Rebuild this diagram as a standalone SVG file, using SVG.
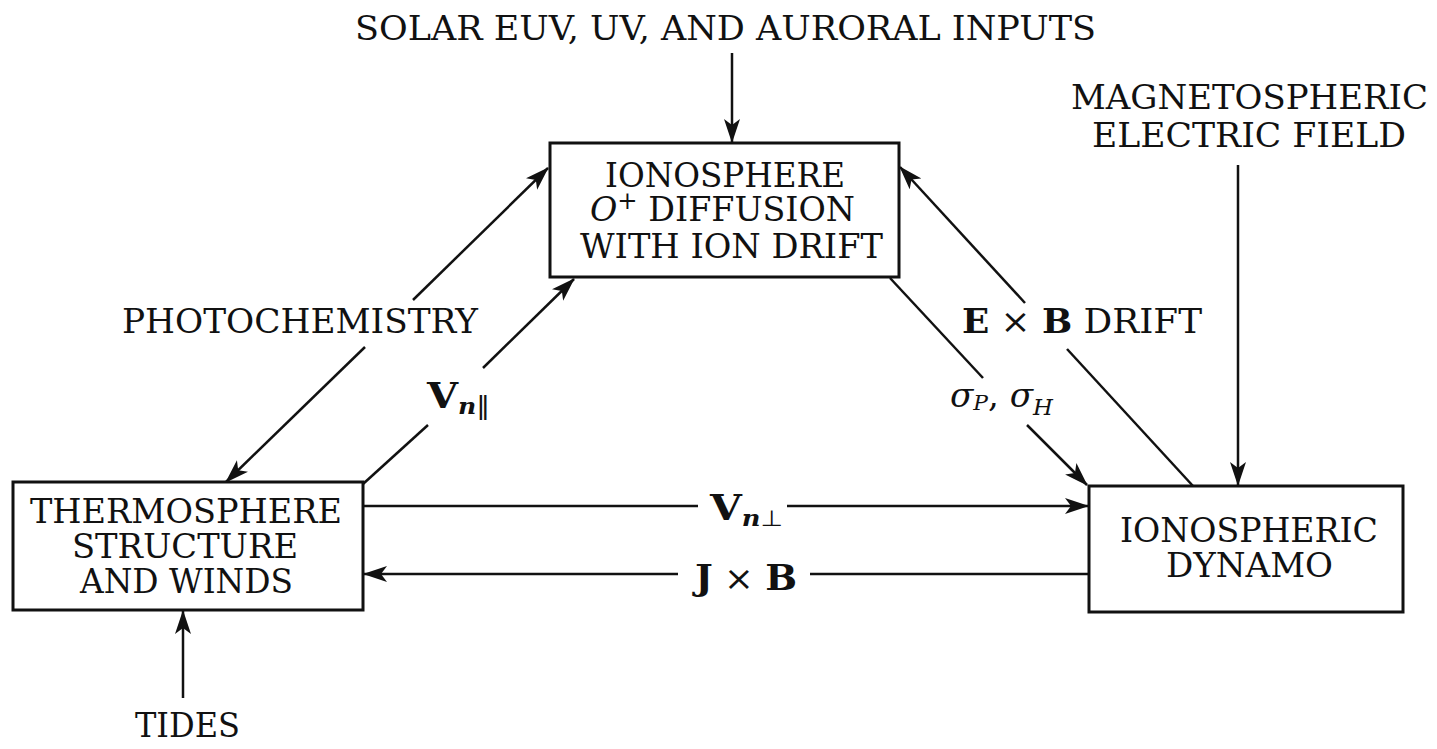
<svg xmlns="http://www.w3.org/2000/svg" width="1437" height="749" viewBox="0 0 1437 749">
<style>
text{font-family:"DejaVu Serif","Liberation Serif",serif;font-size:33px;fill:#111;}
.b{font-weight:bold;}
.i{font-style:italic;}
.box{fill:#fff;stroke:#111;stroke-width:3;}
.c{stroke:#111;stroke-width:2.5;fill:none;}
.a{marker-end:url(#ah);}
</style>
<defs>
<marker id="ah" markerUnits="userSpaceOnUse" markerWidth="24" markerHeight="17" viewBox="0 0 24 17" refX="23" refY="8.5" orient="auto">
<path d="M24,8.5 L0,0.5 L6,8.5 L0,16.5 Z" fill="#111"/>
</marker>
</defs>
<rect width="1437" height="749" fill="#fff"/>

<g id="connectors">
<line class="c a" x1="732" y1="53" x2="732" y2="142"/>
<line class="c a" x1="1238" y1="165" x2="1238" y2="485"/>
<line class="c a" x1="183" y1="698" x2="183" y2="611"/>
<line class="c a" x1="413" y1="300" x2="548" y2="168"/>
<line class="c a" x1="365" y1="347" x2="226" y2="482"/>
<line class="c" x1="363" y1="484" x2="428" y2="425"/>
<line class="c a" x1="483" y1="368" x2="574" y2="279"/>
<line class="c" x1="363" y1="506" x2="698" y2="506"/>
<line class="c a" x1="787" y1="506" x2="1088" y2="506"/>
<line class="c" x1="1089" y1="574" x2="810" y2="574"/>
<line class="c a" x1="678" y1="574" x2="364" y2="574"/>
<line class="c" x1="890" y1="278" x2="983" y2="378"/>
<line class="c a" x1="1027" y1="425" x2="1087" y2="485"/>
<line class="c" x1="1193" y1="486" x2="1067" y2="349"/>
<line class="c a" x1="1025" y1="303" x2="900" y2="167"/>
</g>

<g id="ionosphere">
<rect class="box" x="550" y="143" width="349" height="134"/>
<text x="605" y="187" textLength="240" lengthAdjust="spacingAndGlyphs">IONOSPHERE</text>
<text x="590" y="221" textLength="265" lengthAdjust="spacingAndGlyphs"><tspan class="i">O</tspan><tspan dy="-12" font-size="24">+</tspan><tspan dy="12"> DIFFUSION</tspan></text>
<text x="580" y="258" textLength="303" lengthAdjust="spacingAndGlyphs">WITH ION DRIFT</text>
</g>

<g id="thermosphere">
<rect class="box" x="13" y="482" width="350" height="128"/>
<text x="30" y="523" textLength="312" lengthAdjust="spacingAndGlyphs">THERMOSPHERE</text>
<text x="72" y="558" textLength="226" lengthAdjust="spacingAndGlyphs">STRUCTURE</text>
<text x="80" y="593" textLength="213" lengthAdjust="spacingAndGlyphs">AND WINDS</text>
</g>

<g id="dynamo">
<rect class="box" x="1089" y="486" width="314" height="126"/>
<text x="1120" y="542" textLength="258" lengthAdjust="spacingAndGlyphs">IONOSPHERIC</text>
<text x="1166" y="577" textLength="167" lengthAdjust="spacingAndGlyphs">DYNAMO</text>
</g>

<g id="solar-input">
<text x="355" y="40" textLength="741" lengthAdjust="spacingAndGlyphs">SOLAR EUV, UV, AND AURORAL INPUTS</text>
</g>

<g id="magnetospheric-input">
<text x="1071" y="109" textLength="357" lengthAdjust="spacingAndGlyphs">MAGNETOSPHERIC</text>
<text x="1092" y="147" textLength="314" lengthAdjust="spacingAndGlyphs">ELECTRIC FIELD</text>
</g>

<g id="tides-input">
<text x="135" y="737" textLength="105" lengthAdjust="spacingAndGlyphs">TIDES</text>
</g>

<g id="labels">
<text x="122" y="333" textLength="356" lengthAdjust="spacingAndGlyphs">PHOTOCHEMISTRY</text>
<text x="962" y="333" textLength="240" lengthAdjust="spacingAndGlyphs"><tspan class="b">E</tspan> × <tspan class="b">B</tspan> DRIFT</text>
<text x="427" y="408" textLength="63" lengthAdjust="spacingAndGlyphs"><tspan class="b" font-size="35">V</tspan><tspan class="i b" font-size="22" dy="6">n</tspan><tspan font-size="24" font-family="DejaVu Sans,sans-serif">‖</tspan></text>
<text x="950" y="407" textLength="103" lengthAdjust="spacingAndGlyphs" font-size="30"><tspan class="i">σ</tspan><tspan class="i" font-size="21" dy="3">P</tspan><tspan dy="-3">, </tspan><tspan class="i">σ</tspan><tspan class="i" font-size="22" dy="8">H</tspan></text>
<text x="710" y="520" textLength="73" lengthAdjust="spacingAndGlyphs"><tspan class="b" font-size="35">V</tspan><tspan class="i b" font-size="22" dy="6">n</tspan><tspan font-size="22" font-family="DejaVu Sans,sans-serif">⊥</tspan></text>
<text x="695" y="590" textLength="102" lengthAdjust="spacingAndGlyphs"><tspan class="b" font-size="35">J</tspan> × <tspan class="b" font-size="35">B</tspan></text>
</g>
</svg>
